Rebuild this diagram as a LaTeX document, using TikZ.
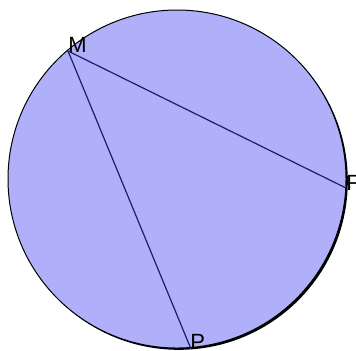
\documentclass[tikz,border=0pt]{standalone}
\usepackage{fontspec}
\setmainfont{Liberation Sans}
\definecolor{discblue}{RGB}{176,176,250}
\definecolor{chordnavy}{RGB}{30,30,100}

\begin{document}
\begin{tikzpicture}[
  x=0.5pt,y=-0.5pt,
  disc/.style={draw=black,fill=discblue,line width=0.5pt},
  chord/.style={chordnavy,line width=0.6pt},
  pointlabel/.style={anchor=base west,inner sep=0pt,font=\fontsize{11}{13}\selectfont}
]
\useasboundingbox (0,0) rectangle (356,350);
% the circle with its shadow
\coordinate (O) at (177,179);
\fill[black] ([shift={(1.8,1.8)}]O) circle[radius=169];
\path[disc] (O) circle[radius=169];
% points on the circle
\coordinate (M) at (68,51);
\coordinate (F) at (346,188);
\coordinate (P) at (191,349);
\node[pointlabel] (mlabel) at (68,52) {M};
\node[pointlabel] (flabel) at (346,190) {F};
\node[pointlabel] (plabel) at (190,349) {P};
\draw[chord] (M) -- (F);
\draw[chord] (M) -- (P);
\end{tikzpicture}
\end{document}
